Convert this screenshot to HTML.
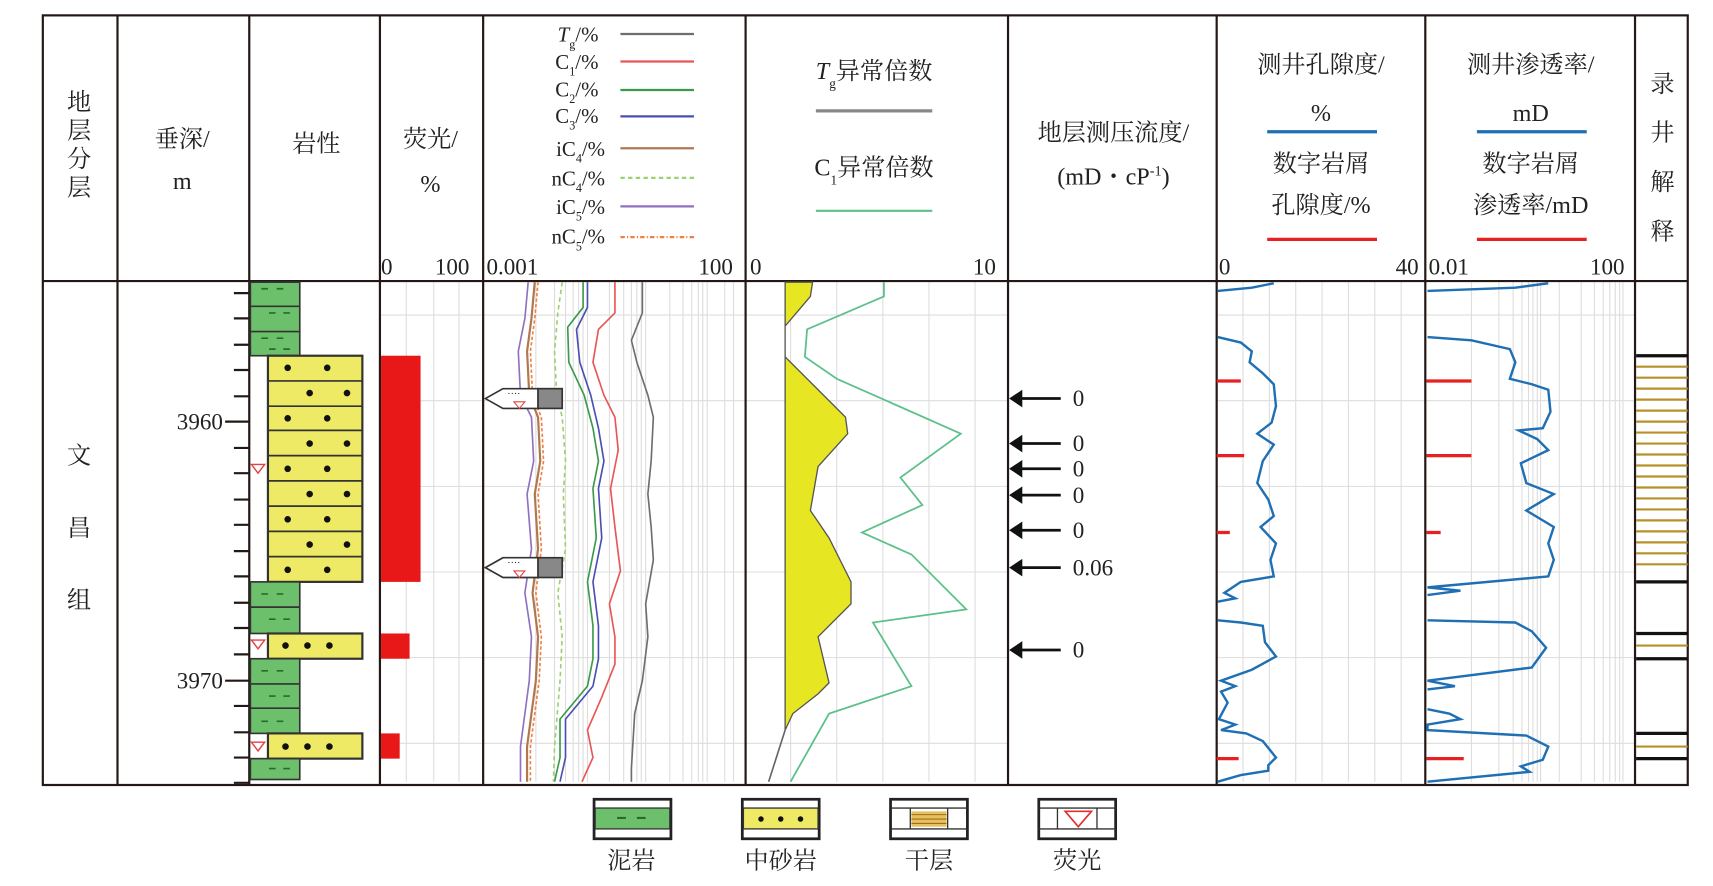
<!DOCTYPE html>
<html><head><meta charset="utf-8"><style>
html,body{margin:0;padding:0;background:#fff;}
svg{display:block;}
text{font-family:"Liberation Serif","Noto Serif CJK SC","Noto Sans CJK SC",serif;fill:#222;}
</style></head><body>
<svg width="1713" height="886" viewBox="0 0 1560 807" preserveAspectRatio="none" xmlns="http://www.w3.org/2000/svg">
<rect width="1560" height="807" fill="#fff"/>
<!-- grids -->
<g stroke="#ddd" stroke-width="1">
<path d="M370 257V712M395 257V712M418 257V712"/>
<path d="M720 257V712M762 257V712M804 257V712M846 257V712M888 257V712"/>
<path d="M1132 257V712M1156 257V712M1180 257V712M1204 257V712M1228 257V712M1252 257V712M1276 257V712"/>
<path d="M1340 257V712M1365 257V712M1378 257V712M1386 257V712M1392 257V712M1396 257V712M1400 257V712M1403 257V712M1420 257V712M1440 257V712M1452 257V712M1460 257V712M1466 257V712M1471 257V712M1475 257V712M1478 257V712"/>
<path d="M488 257V712M505 257V712M515 257V712M522 257V712M527 257V712M531 257V712M535 257V712M555 257V712M568 257V712M575 257V712M580 257V712M584 257V712M588 257V712M610 257V712M622 257V712M630 257V712M636 257V712M640 257V712M644 257V712M660 257V712M668 257V712"/>
<path d="M346 287H918M346 365H918M346 443H918M346 521H918M346 599H918M346 677H918"/>
<path d="M1108 287H1489M1108 365H1489M1108 443H1489M1108 521H1489M1108 599H1489M1108 677H1489"/>
</g>
<!-- table lines -->
<g stroke="#231815" stroke-width="2" fill="none">
<rect x="39" y="14" width="1498" height="701"/>
<path d="M39 256H1537"/>
<path d="M107 14V715M227 14V715M346 14V715M440 14V715M679 14V715M918 14V715M1108 14V715M1298 14V715M1489 14V715"/>
</g>
<!-- header text -->
<g font-size="22" text-anchor="middle">
<text x="72" y="100">地</text><text x="72" y="126">层</text><text x="72" y="152">分</text><text x="72" y="178">层</text>
<text x="166" y="134">垂深/</text><text x="166" y="172">m</text>
<text x="288" y="138">岩性</text>
<text x="392" y="134">荧光/</text><text x="392" y="175">%</text>
<text x="796" y="72"><tspan font-style="italic">T</tspan><tspan font-size="12" dy="8">g</tspan><tspan dy="-8">异常倍数</tspan></text>
<text x="796" y="160">C<tspan font-size="12" dy="8">1</tspan><tspan dy="-8">异常倍数</tspan></text>
<text x="1014" y="128">地层测压流度/</text>
<text x="1014" y="168">(mD・cP<tspan font-size="13" dy="-8">-1</tspan><tspan dy="8">)</tspan></text>
<text x="1203" y="66">测井孔隙度/</text><text x="1203" y="110">%</text>
<text x="1203" y="156">数字岩屑</text><text x="1203" y="194">孔隙度/%</text>
<text x="1394" y="66">测井渗透率/</text><text x="1394" y="110">mD</text>
<text x="1394" y="156">数字岩屑</text><text x="1394" y="194">渗透率/mD</text>
<text x="1514" y="84">录</text><text x="1514" y="128">井</text><text x="1514" y="173">解</text><text x="1514" y="218">释</text>
</g>
<g font-size="21">
<text x="347" y="250">0</text><text x="396" y="250">100</text>
<text x="443" y="250">0.001</text><text x="636" y="250">100</text>
<text x="683" y="250">0</text><text x="886" y="250">10</text>
<text x="1110" y="250">0</text><text x="1271" y="250">40</text>
<text x="1301" y="250">0.01</text><text x="1448" y="250">100</text>
</g>
<!-- gas legend -->
<g font-size="19" text-anchor="end">
<text x="545" y="38"><tspan font-style="italic">T</tspan><tspan font-size="11" dy="6">g</tspan><tspan dy="-6">/%</tspan></text>
<text x="545" y="63">C<tspan font-size="11" dy="6">1</tspan><tspan dy="-6">/%</tspan></text>
<text x="545" y="88">C<tspan font-size="11" dy="6">2</tspan><tspan dy="-6">/%</tspan></text>
<text x="545" y="112">C<tspan font-size="11" dy="6">3</tspan><tspan dy="-6">/%</tspan></text>
<text x="551" y="142">iC<tspan font-size="11" dy="6">4</tspan><tspan dy="-6">/%</tspan></text>
<text x="551" y="169">nC<tspan font-size="11" dy="6">4</tspan><tspan dy="-6">/%</tspan></text>
<text x="551" y="195">iC<tspan font-size="11" dy="6">5</tspan><tspan dy="-6">/%</tspan></text>
<text x="551" y="222">nC<tspan font-size="11" dy="6">5</tspan><tspan dy="-6">/%</tspan></text>
</g>
<g stroke-width="2">
<path d="M565 31H632" stroke="#6e6e6e"/>
<path d="M565 56H632" stroke="#e85656"/>
<path d="M565 82H632" stroke="#3a9a4a"/>
<path d="M565 106H632" stroke="#4a50b0"/>
<path d="M565 135H632" stroke="#b07850"/>
<path d="M565 162H632" stroke="#9cd070" stroke-dasharray="4 3"/>
<path d="M565 188H632" stroke="#9070c0"/>
<path d="M565 216H632" stroke="#f08040" stroke-dasharray="4 2 1 2"/>
<path d="M743 101H849" stroke="#888" stroke-width="3"/>
<path d="M743 192H849" stroke="#5bc08a"/>
<path d="M1154 120H1254" stroke="#1f6fb4" stroke-width="3"/>
<path d="M1154 218H1254" stroke="#e82020" stroke-width="3"/>
<path d="M1345 120H1445" stroke="#1f6fb4" stroke-width="3"/>
<path d="M1345 218H1445" stroke="#e82020" stroke-width="3"/>
</g>
<!-- depth -->
<g stroke="#231815" stroke-width="2">
<path d="M213 267H227M213 290H227M213 314H227M213 337H227M213 361H227M205 384H227M213 408H227M213 431H227M213 455H227M213 478H227M213 502H227M213 525H227M213 549H227M213 572H227M213 596H227M205 620H227M213 643H227M213 667H227M213 690H227M213 713H227"/>
</g>
<text x="203" y="391" font-size="21" text-anchor="end">3960</text>
<text x="203" y="627" font-size="21" text-anchor="end">3970</text>
<text x="72" y="422" font-size="22" text-anchor="middle">文</text>
<text x="72" y="488" font-size="22" text-anchor="middle">昌</text>
<text x="72" y="554" font-size="22" text-anchor="middle">组</text>
<!-- lithology -->
<g stroke="#333" stroke-width="1.5">
<rect x="228" y="257" width="45" height="67" fill="#6cc06c"/>
<path d="M228 279H273M228 302H273"/>
<rect x="244" y="324" width="86" height="206" fill="#eeea66" stroke-width="2"/>
<path d="M244 347H330M244 370H330M244 392H330M244 415H330M244 438H330M244 461H330M244 484H330M244 507H330"/>
<rect x="228" y="530" width="45" height="47" fill="#6cc06c"/>
<path d="M228 553H273"/>
<rect x="244" y="577" width="86" height="23" fill="#eeea66" stroke-width="2"/>
<rect x="228" y="600" width="45" height="68" fill="#6cc06c"/>
<path d="M228 623H273M228 645H273"/>
<rect x="244" y="668" width="86" height="23" fill="#eeea66" stroke-width="2"/>
<rect x="228" y="691" width="45" height="19" fill="#6cc06c"/>
</g>
<g stroke="#2a6a2a" stroke-width="1.5">
<path d="M238 263h6M252 263h6M245 285h6M258 285h6M238 308h6M252 308h6M245 318h6M258 318h6M238 541h6M252 541h6M245 564h6M258 564h6M238 611h6M252 611h6M245 634h6M258 634h6M238 657h6M252 657h6M245 700h6M258 700h6"/>
</g>
<g fill="#111">
<circle cx="262" cy="335" r="3"/><circle cx="298" cy="335" r="3"/>
<circle cx="282" cy="358" r="3"/><circle cx="316" cy="358" r="3"/>
<circle cx="262" cy="381" r="3"/><circle cx="298" cy="381" r="3"/>
<circle cx="282" cy="404" r="3"/><circle cx="316" cy="404" r="3"/>
<circle cx="262" cy="427" r="3"/><circle cx="298" cy="427" r="3"/>
<circle cx="282" cy="450" r="3"/><circle cx="316" cy="450" r="3"/>
<circle cx="262" cy="473" r="3"/><circle cx="298" cy="473" r="3"/>
<circle cx="282" cy="496" r="3"/><circle cx="316" cy="496" r="3"/>
<circle cx="262" cy="519" r="3"/><circle cx="298" cy="519" r="3"/>
<circle cx="260" cy="588" r="3"/><circle cx="280" cy="588" r="3"/><circle cx="300" cy="588" r="3"/>
<circle cx="260" cy="680" r="3"/><circle cx="280" cy="680" r="3"/><circle cx="300" cy="680" r="3"/>
</g>
<g fill="none" stroke="#e84040" stroke-width="1.3">
<path d="M229 423h12l-6 8z"/><path d="M229 583h12l-6 8z"/><path d="M229 676h12l-6 8z"/>
</g>
<!-- fluorescence bars -->
<g fill="#e81818">
<rect x="347" y="324" width="36" height="206"/>
<rect x="347" y="577" width="26" height="23"/>
<rect x="347" y="668" width="17" height="23"/>
</g>
<!-- gas curves -->
<g fill="none" stroke-width="1.5">
<polyline stroke="#6e6e6e" points="585,257 585,285 575,310 580,330 590,360 595,380 593,420 590,450 593,480 595,510 588,550 590,580 585,620 578,650 575,700 575,712"/>
<polyline stroke="#e85656" points="560,257 560,285 545,300 540,330 550,360 560,380 563,410 556,445 560,480 565,520 555,550 560,580 560,605 548,635 535,665 540,690 530,712"/>
<polyline stroke="#4a50b0" points="535,257 535,280 525,300 528,330 538,360 545,390 550,420 545,445 548,490 540,530 545,570 545,600 540,625 515,655 515,690 510,712"/>
<polyline stroke="#3a9a4a" points="531,257 531,280 517,298 518,330 532,360 540,390 545,420 540,445 543,490 535,530 540,570 540,600 535,625 510,655 510,690 505,712"/>
<polyline stroke="#9cd070" stroke-dasharray="4 3" points="512,257 508,285 505,320 507,360 512,380 515,420 513,450 515,500 508,540 512,580 510,620 505,680 504,712"/>
<polyline stroke="#b07850" stroke-width="2" points="487,257 484,290 480,320 482,360 490,380 492,420 487,450 490,500 485,540 490,580 488,620 480,680 480,712"/>
<polyline stroke="#f08040" stroke-dasharray="3 2" points="490,257 487,290 483,320 485,360 493,380 495,420 490,450 493,500 488,540 493,580 491,620 483,680 483,712"/>
<polyline stroke="#9070c0" points="481,257 478,290 472,320 474,360 484,380 486,420 480,450 484,500 478,540 484,580 482,620 474,680 474,712"/>
</g>
<!-- markers -->
<g stroke="#333" stroke-width="1.5">
<path d="M442 363l16-9h32v18h-32z" fill="#fff"/><rect x="490" y="354" width="22" height="18" fill="#888"/>
<path d="M442 517l16-9h32v18h-32z" fill="#fff"/><rect x="490" y="508" width="22" height="18" fill="#888"/>
</g>
<g fill="#333" font-size="9"><text x="462" y="361">····</text><text x="462" y="515">····</text></g>
<g fill="none" stroke="#e84040" stroke-width="1"><path d="M468 366h10l-5 6z"/><path d="M468 520h10l-5 6z"/></g>
<!-- anomaly -->
<polygon fill="#e6e622" stroke="#555" stroke-width="1.2" points="715,257 740,257 738,270 715,297 715,325 740,350 770,380 772,395 745,425 738,465 755,490 775,530 775,550 745,580 755,622 745,632 722,650 715,665"/>
<polyline fill="none" stroke="#666" stroke-width="1.5" points="715,665 700,712"/>
<polyline fill="none" stroke="#5bc08a" stroke-width="1.6" points="805,257 805,270 735,300 733,325 762,345 875,395 820,435 840,460 785,485 830,505 880,555 795,567 830,625 755,650 720,712"/>
<!-- pressure arrows -->
<g stroke="#111" stroke-width="2.5"><path d="M928 363H966M928 404H966M928 427H966M928 451H966M928 483H966M928 517H966M928 592H966"/></g>
<g fill="#111"><path d="M919 363l12-8v16z"/><path d="M919 404l12-8v16z"/><path d="M919 427l12-8v16z"/><path d="M919 451l12-8v16z"/><path d="M919 483l12-8v16z"/><path d="M919 517l12-8v16z"/><path d="M919 592l12-8v16z"/></g>
<g font-size="21"><text x="977" y="370">0</text><text x="977" y="411">0</text><text x="977" y="434">0</text><text x="977" y="458">0</text><text x="977" y="490">0</text><text x="977" y="524">0.06</text><text x="977" y="599">0</text></g>
<!-- porosity/perm -->
<g stroke="#e82020" stroke-width="3"><path d="M1108 347h22M1108 415h25M1108 485h12M1108 691h20M1299 347h41M1299 415h41M1299 485h13M1299 691h34"/></g>
<g fill="none" stroke="#1f6fb4" stroke-width="2.2">
<polyline points="1109,265 1140,262 1160,258"/>
<polyline points="1109,307 1130,312 1140,320 1138,330 1150,340 1160,350 1162,370 1158,385 1145,395 1160,405 1150,420 1145,440 1155,455 1160,470 1148,480 1162,495 1157,510 1160,525 1130,530 1115,540 1125,545 1109,548"/>
<polyline points="1109,565 1130,567 1150,570 1152,585 1162,598 1140,610 1112,620 1125,625 1112,630 1118,640 1110,655 1125,660 1112,665 1135,668 1150,675 1162,690 1155,697 1155,702 1130,706 1109,712"/>
<polyline points="1300,265 1380,262 1410,258"/>
<polyline points="1300,307 1340,310 1375,318 1380,330 1375,345 1395,350 1410,355 1412,375 1405,390 1383,392 1400,400 1410,410 1385,422 1390,440 1415,450 1390,465 1415,480 1410,495 1415,510 1410,525 1300,535 1330,538 1300,542"/>
<polyline points="1300,565 1380,567 1395,575 1408,590 1395,608 1300,620 1325,625 1300,628"/>
<polyline points="1300,646 1320,650 1330,655 1300,660 1300,665 1390,670 1410,680 1405,692 1385,698 1393,703 1300,712"/>
</g>
<!-- interpretation -->
<g stroke="#b8902a" stroke-width="2"><path d="M1490 334H1537M1490 344H1537M1490 354H1537M1490 364H1537M1490 374H1537M1490 384H1537M1490 394H1537M1490 404H1537M1490 414H1537M1490 424H1537M1490 434H1537M1490 444H1537M1490 454H1537M1490 464H1537M1490 474H1537M1490 484H1537M1490 494H1537M1490 504H1537M1490 514H1537M1490 588H1537M1490 680H1537"/></g>
<g stroke="#111" stroke-width="3"><path d="M1490 324H1537M1490 530H1537M1490 577H1537M1490 600H1537M1490 668H1537M1490 691H1537"/></g>
<!-- legend -->
<g stroke="#222" stroke-width="2.5" fill="#fff">
<rect x="541" y="728" width="70" height="36"/><rect x="676" y="728" width="70" height="36"/><rect x="811" y="728" width="70" height="36"/><rect x="946" y="728" width="70" height="36"/>
</g>
<g stroke="#333" stroke-width="1.2">
<rect x="542" y="736" width="68" height="19" fill="#6cc06c"/>
<rect x="677" y="736" width="68" height="19" fill="#eeea66"/>
<path d="M812 736H880M812 755H880M829 736V755M863 736V755M946 736H1016M946 755H1016M963 736V755M999 736V755"/>
<rect x="830" y="739" width="32" height="14" fill="#e8c060" stroke="none"/>
</g>
<g stroke="#9a7018" stroke-width="1"><path d="M830 742h32M830 746h32M830 750h32"/></g>
<g stroke="#2a6a2a" stroke-width="2"><path d="M562 745h8M580 745h8"/></g>
<g fill="#111"><circle cx="693" cy="746" r="2.5"/><circle cx="711" cy="746" r="2.5"/><circle cx="729" cy="746" r="2.5"/></g>
<path d="M970 739h24l-12 14z" fill="none" stroke="#e03030" stroke-width="1.5"/>
<g font-size="22" text-anchor="middle"><text x="575" y="791">泥岩</text><text x="711" y="791">中砂岩</text><text x="846" y="791">干层</text><text x="981" y="791">荧光</text></g>
</svg>
</body></html>
